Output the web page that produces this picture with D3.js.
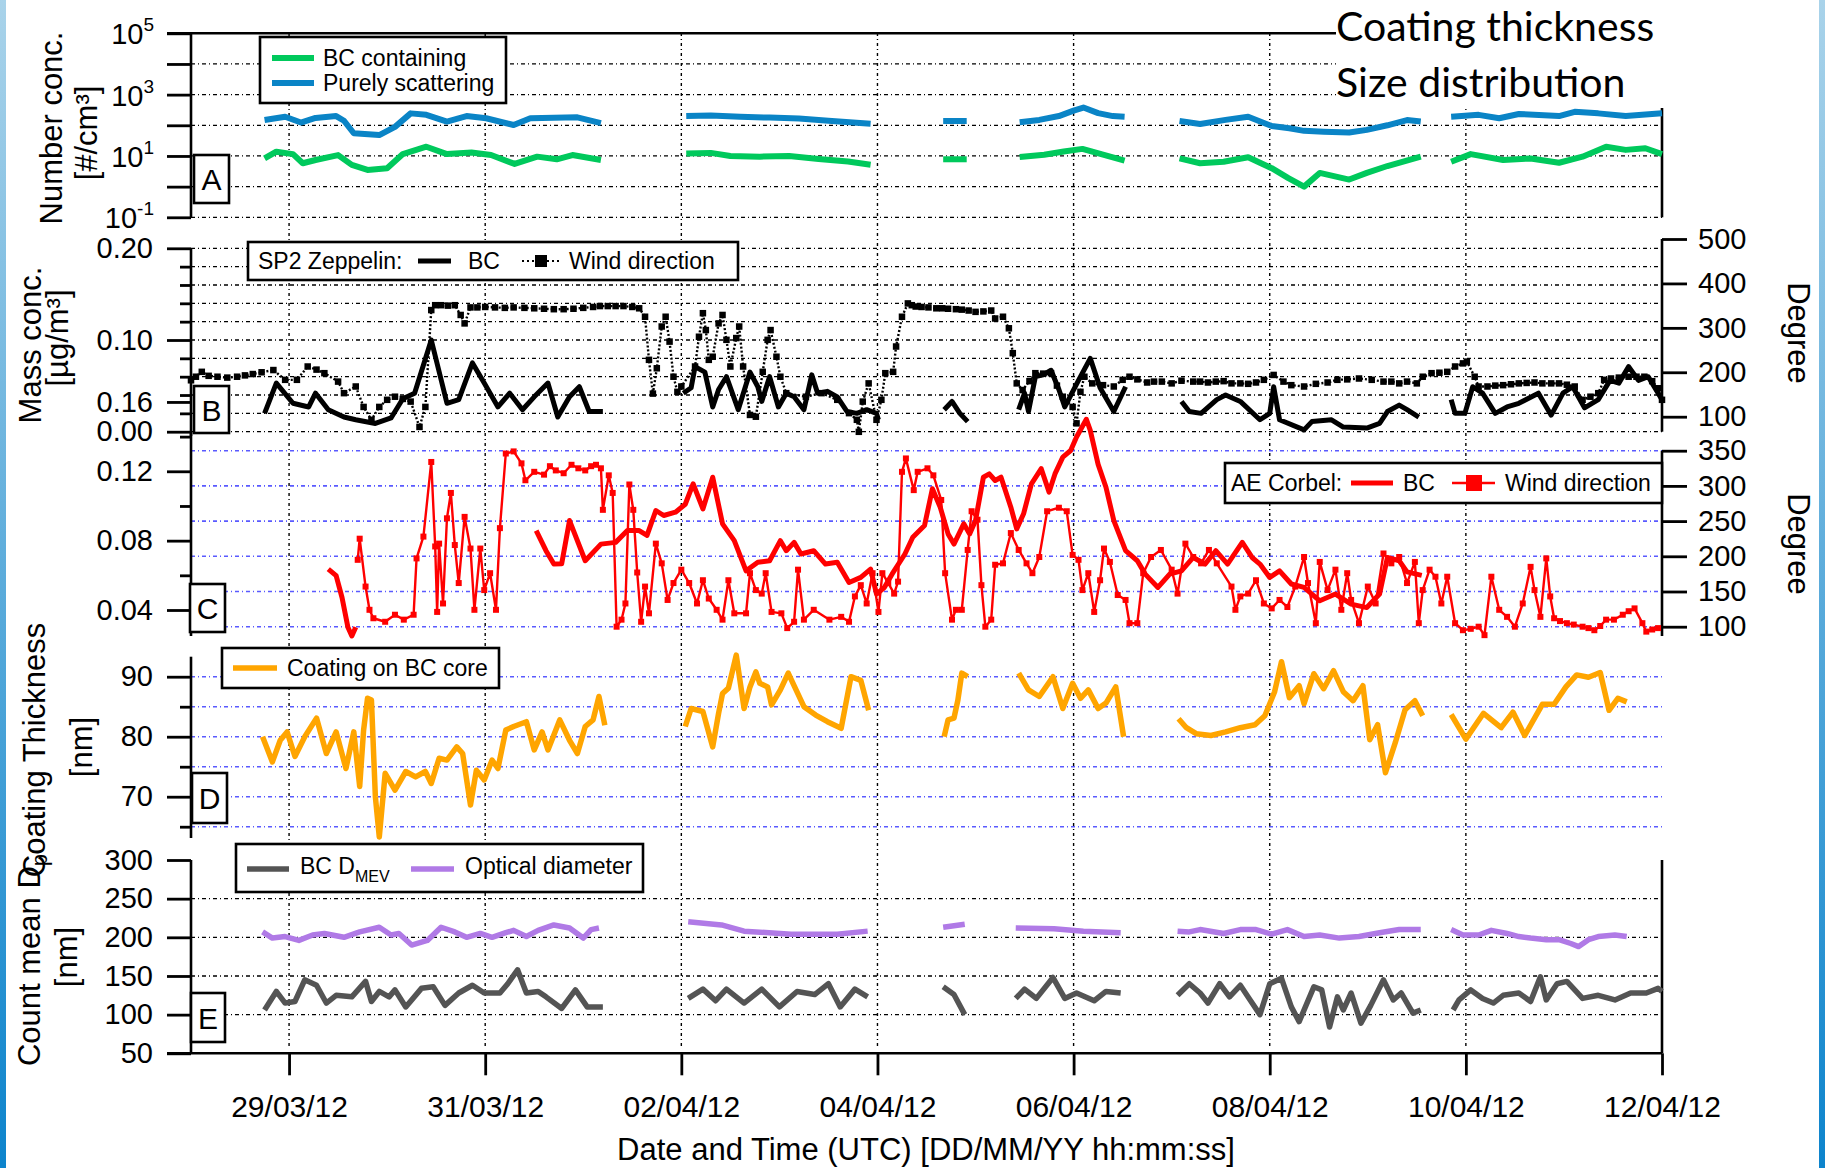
<!DOCTYPE html>
<html>
<head>
<meta charset="utf-8">
<script src="https://cdn.jsdelivr.net/npm/d3@7"></script>
<style>
  body { margin: 0; background: #fff; }
  svg text { font-family: 'Liberation Sans', Arial, sans-serif; fill: #000; }
</style>
</head>
<body>
<svg id="chart" width="1825" height="1168"></svg>
<script>
// ---- data: [day offset from 28/03/12 00:00 UTC, value], one inner array per measured stretch ----
const dateTickDays = [1, 3, 5, 7, 9, 11, 13, 15]

const bcContaining = [
  [[0.75,8.3],[0.87,13.8],[1.04,11.5],[1.14,5.8],[1.27,7.4],[1.5,10.7],[1.64,5.1],[1.8,3.5],[2.0,4.0],[2.16,11.5],[2.4,20],[2.61,11.5],[2.86,12.9],[3.06,10.7],[3.3,5.5],[3.53,9.5],[3.73,7.8],[3.89,10.7],[4.18,7.4]],
  [[5.05,12],[5.3,12.6],[5.5,10],[5.8,9.5],[6.1,10],[6.4,8],[6.7,6.6],[6.93,5.2]],
  [[7.67,7.8],[7.91,7.8]],
  [[8.45,9.3],[8.7,11],[8.9,14],[9.09,17],[9.3,11],[9.52,7]],
  [[10.08,8.3],[10.29,5.8],[10.53,6.5],[10.78,9.1],[11.02,4.0],[11.19,1.9],[11.35,1.0],[11.51,2.8],[11.81,1.7],[11.99,2.8],[12.2,4.7],[12.54,9.5]],
  [[12.85,6.5],[13.05,11.5],[13.38,7.4],[13.66,8.3],[13.95,6.0],[14.19,9.5],[14.43,20],[14.63,15.8],[14.83,17.8],[15.0,11.5]]
]
const purelyScattering = [
  [[0.75,148],[0.96,190],[1.12,123],[1.27,174],[1.48,200],[1.56,141],[1.66,55],[1.92,48],[2.08,89],[2.24,245],[2.4,219],[2.61,132],[2.81,200],[3.01,170],[3.29,102],[3.46,170],[3.94,182],[4.18,117]],
  [[5.05,200],[5.3,209],[5.6,190],[5.9,178],[6.2,166],[6.5,141],[6.93,112]],
  [[7.67,138],[7.91,138]],
  [[8.45,126],[8.65,150],[8.85,200],[9.0,300],[9.1,380],[9.25,250],[9.4,200],[9.52,190]],
  [[10.08,138],[10.29,110],[10.55,150],[10.78,190],[11.02,95],[11.2,80],[11.35,66],[11.55,62],[11.81,58],[11.99,71],[12.2,100],[12.4,148],[12.54,132]],
  [[12.85,190],[13.13,219],[13.34,170],[13.54,234],[13.95,200],[14.11,275],[14.35,245],[14.63,200],[15.0,245]]
]

const sp2BC = [
  [[0.75,0.020],[0.87,0.053],[1.04,0.031],[1.2,0.027],[1.27,0.042],[1.4,0.024],[1.56,0.016],[1.68,0.013],[1.88,0.009],[2.04,0.015],[2.16,0.036],[2.28,0.042],[2.45,0.100],[2.61,0.031],[2.73,0.035],[2.87,0.075],[2.99,0.053],[3.13,0.027],[3.25,0.042],[3.38,0.024],[3.5,0.038],[3.64,0.053],[3.74,0.016],[3.86,0.038],[3.96,0.049],[4.06,0.022],[4.2,0.022]],
  [[5.02,0.042],[5.1,0.048],[5.14,0.071],[5.24,0.065],[5.32,0.027],[5.38,0.046],[5.46,0.060],[5.58,0.024],[5.7,0.065],[5.78,0.049],[5.82,0.033],[5.9,0.060],[5.99,0.027],[6.07,0.042],[6.15,0.038],[6.25,0.024],[6.33,0.062],[6.39,0.042],[6.49,0.044],[6.59,0.038],[6.69,0.022],[6.79,0.020],[6.89,0.024],[6.99,0.020],[7.01,0.013]],
  [[7.68,0.024],[7.76,0.033],[7.84,0.020],[7.92,0.011]],
  [[8.44,0.024],[8.5,0.042],[8.54,0.022],[8.61,0.060],[8.69,0.062],[8.77,0.067],[8.85,0.046],[8.91,0.027],[9.05,0.056],[9.17,0.080],[9.27,0.048],[9.41,0.022],[9.53,0.049]],
  [[10.1,0.033],[10.18,0.022],[10.3,0.020],[10.46,0.035],[10.55,0.040],[10.7,0.033],[10.9,0.013],[11.0,0.020],[11.04,0.049],[11.1,0.013],[11.35,0.002],[11.43,0.011],[11.63,0.013],[11.75,0.005],[11.99,0.004],[12.12,0.009],[12.2,0.022],[12.32,0.029],[12.4,0.024],[12.52,0.016]],
  [[12.85,0.035],[12.89,0.020],[12.99,0.020],[13.07,0.049],[13.17,0.042],[13.3,0.020],[13.42,0.027],[13.54,0.031],[13.74,0.042],[13.87,0.018],[13.99,0.042],[14.09,0.049],[14.21,0.026],[14.35,0.035],[14.47,0.056],[14.56,0.053],[14.66,0.071],[14.76,0.056],[14.86,0.060],[15.0,0.035]]
]
const sp2Wind = [
  [0.0,182],[0.05,190],[0.11,201],[0.18,192],[0.27,190],[0.37,188],[0.47,190],[0.55,193],[0.63,196],[0.72,200],[0.84,205],[0.96,183],[1.08,183],[1.19,213],[1.28,206],[1.36,198],[1.5,179],[1.56,153],[1.68,168],[1.76,122],[1.84,93],[1.92,122],[2.0,138],[2.08,145],[2.16,140],[2.24,134],[2.33,77],[2.39,122],
  [2.45,340],[2.49,351],[2.55,351],[2.62,350],[2.69,351],[2.75,329],[2.79,310],[2.85,346],[2.92,346],[3.0,347],[3.1,346],[3.2,345],[3.29,346],[3.4,345],[3.5,344],[3.6,343],[3.7,342],[3.8,342],[3.9,343],[4.0,345],[4.1,347],[4.17,349],[4.25,349],[4.33,349],[4.41,349],[4.5,347],[4.57,344],[4.63,325],
  [4.67,228],[4.71,152],[4.75,209],[4.8,303],[4.84,325],[4.88,269],[4.92,190],[4.96,156],[5.0,168],[5.14,213],[5.18,280],[5.22,333],[5.25,295],[5.28,228],[5.32,235],[5.38,310],[5.42,329],[5.46,273],[5.5,213],[5.56,277],[5.59,303],[5.63,213],[5.7,104],[5.76,100],[5.83,201],[5.88,273],[5.91,295],[5.97,235],[6.01,190],[6.07,153],[6.27,145],[6.43,153],[6.59,138],[6.71,108],[6.79,93],[6.81,66],[6.85,134],[6.91,175],[6.99,93],[7.04,138],[7.08,198],[7.16,201],[7.19,258],[7.25,325],
  [7.31,355],[7.35,351],[7.39,348],[7.45,347],[7.52,346],[7.6,344],[7.66,344],[7.72,343],[7.8,342],[7.86,341],[7.93,339],[8.0,336],[8.08,337],[8.16,339],[8.2,321],[8.28,325],[8.34,299],[8.38,243],[8.42,175],[8.48,160],[8.55,180],[8.61,198],[8.69,197],[8.77,198],[8.83,170],[8.89,145],[8.99,122],[9.03,85],[9.07,156],[9.11,190],[9.19,175],[9.3,171],[9.41,168],[9.5,183],[9.57,190],[9.65,184],[9.75,177],[9.82,179],[9.9,179],[10.0,175],[10.1,181],[10.22,179],
  [10.29,179],[10.37,177],[10.45,179],[10.53,180],[10.61,175],[10.7,175],[10.78,174],[10.86,177],[10.94,183],[11.04,194],[11.14,179],[11.22,171],[11.35,168],[11.47,174],[11.59,177],[11.69,183],[11.79,184],[11.91,186],[12.04,183],[12.16,179],[12.24,179],[12.32,175],[12.4,179],[12.5,175],[12.56,190],[12.65,198],[12.73,199],[12.81,201],[12.89,213],[12.97,220],[13.01,224],[13.09,190],[13.13,168],[13.22,168],[13.3,170],[13.38,171],[13.46,173],[13.54,175],[13.62,176],[13.7,177],[13.78,175],[13.87,175],[13.95,175],[14.03,172],[14.11,168],[14.19,138],[14.27,145],[14.35,153],[14.41,183],[14.48,186],[14.56,188],[14.66,190],[14.74,190],[14.82,190],[14.9,180],[14.96,164],[15.0,138]
]

const aeBC = [
  [[1.4,0.0636],[1.48,0.0598],[1.54,0.0472],[1.6,0.030],[1.64,0.025],[1.68,0.030]],
  [[3.52,0.0858],[3.62,0.0742],[3.7,0.0665],[3.78,0.0667],[3.86,0.0916],[4.02,0.0684],[4.18,0.078],[4.33,0.079],[4.45,0.0858],[4.57,0.0858],[4.65,0.083],[4.74,0.0974],[4.82,0.0945],[4.94,0.0964],[5.04,0.101],[5.12,0.1128],[5.22,0.0983],[5.32,0.1166],[5.42,0.0897],[5.54,0.080],[5.66,0.0626],[5.78,0.0675],[5.9,0.0684],[6.01,0.080],[6.07,0.0742],[6.15,0.079],[6.22,0.0723],[6.35,0.0742],[6.47,0.0665],[6.59,0.0675],[6.71,0.0559],[6.83,0.0588],[6.93,0.0636],[6.99,0.0492],[7.07,0.053],[7.15,0.0608],[7.28,0.0723],[7.36,0.082],[7.48,0.0887],[7.56,0.1099],[7.64,0.0993],[7.72,0.0839],[7.78,0.078],[7.88,0.0897],[7.94,0.0839],[8.0,0.0916],[8.08,0.1166],[8.14,0.1185],[8.2,0.1147],[8.26,0.1166],[8.36,0.0993],[8.42,0.0868],[8.49,0.0955],[8.57,0.1128],[8.67,0.1215],[8.75,0.108],[8.81,0.1185],[8.89,0.1282],[8.97,0.132],[9.03,0.1398],[9.13,0.150],[9.17,0.1436],[9.25,0.124],[9.33,0.1108],[9.41,0.0916],[9.53,0.0742],[9.65,0.0684],[9.73,0.0607],[9.86,0.053],[9.98,0.0607],[10.1,0.0626],[10.22,0.0703],[10.34,0.0665],[10.45,0.0742],[10.57,0.0665],[10.72,0.079],[10.82,0.0703],[10.9,0.0665],[11.0,0.0588],[11.1,0.0626],[11.22,0.055],[11.35,0.053],[11.51,0.0453],[11.67,0.0492],[11.83,0.0434],[11.99,0.0414],[12.12,0.0492],[12.2,0.0703],[12.32,0.0684],[12.4,0.062],[12.55,0.060]]
]
const aeWind = [
  [1.7,195],[1.72,225],[1.78,157],[1.82,124],[1.86,112],[1.98,107],[2.08,117],[2.17,110],[2.27,117],[2.3,197],[2.37,228],[2.45,334],[2.49,214],[2.51,121],[2.53,218],[2.57,133],[2.61,254],[2.65,290],[2.69,216],[2.73,162],[2.79,256],[2.85,211],[2.89,124],[2.95,211],[2.99,152],[3.05,176],[3.11,124],[3.15,240],[3.21,346],[3.29,349],[3.37,332],[3.41,308],[3.5,320],[3.6,316],[3.66,328],[3.72,322],[3.8,318],[3.88,330],[3.95,325],[4.02,322],[4.08,328],[4.13,330],[4.18,325],[4.2,266],[4.26,315],[4.3,290],[4.34,100],
  [4.39,110],[4.43,133],[4.47,302],[4.51,266],[4.55,177],[4.59,107],[4.63,157],[4.67,119],[4.74,218],[4.8,190],[4.86,138],[4.92,162],[5.0,181],[5.08,162],[5.16,133],[5.22,166],[5.28,140],[5.36,124],[5.42,110],[5.48,166],[5.54,119],[5.66,119],[5.7,176],[5.76,152],[5.82,147],[5.86,176],[5.92,121],[6.02,119],[6.08,98],[6.15,107],[6.19,181],[6.25,110],[6.35,124],[6.51,110],[6.63,114],[6.71,107],[6.77,143],[6.83,159],[6.89,133],[6.95,176],[7.01,121],[7.05,176],[7.11,162],[7.17,147],[7.21,164],[7.25,320],[7.29,339],[7.37,294],[7.41,320],[7.51,325],[7.57,315],[7.65,280],[7.69,176],[7.76,110],[7.8,124],[7.86,124],[7.92,209],[7.96,264],[8.02,252],[8.06,159],[8.1,100],[8.16,110],[8.2,188],[8.28,190],[8.36,233],[8.44,209],[8.52,190],[8.58,176],[8.65,199],[8.73,264],[8.85,269],[8.93,264],[8.99,202],[9.05,195],[9.09,152],[9.15,176],[9.21,121],[9.27,166],[9.31,211],[9.37,192],[9.45,145],[9.53,138],[9.57,105],[9.65,105],[9.71,176],[9.79,199],[9.89,209],[10.0,181],[10.06,147],[10.14,218],[10.22,199],[10.3,190],[10.38,209],[10.46,190],
  [10.61,157],[10.65,124],[10.7,143],[10.78,147],[10.86,166],[10.94,133],[11.02,126],[11.1,138],[11.18,128],[11.26,157],[11.35,199],[11.39,162],[11.47,105],[11.51,192],[11.59,152],[11.67,181],[11.73,124],[11.79,176],[11.83,138],[11.91,105],[12.0,157],[12.08,133],[12.16,204],[12.24,190],[12.32,199],[12.4,162],[12.48,192],[12.52,105],[12.56,152],[12.63,181],[12.69,171],[12.75,133],[12.81,171],[12.89,105],[12.97,95],[13.05,97],[13.13,100],[13.19,88],[13.26,171],[13.34,124],[13.42,114],[13.5,100],[13.58,133],[13.66,185],[13.7,152],[13.76,114],[13.82,197],[13.86,143],[13.9,112],[13.96,108],[14.03,105],[14.1,103],[14.19,100],[14.25,98],[14.31,95],[14.37,101],[14.43,110],[14.51,110],[14.6,117],[14.66,122],[14.72,126],[14.8,105],[14.84,93],[14.9,96],[14.96,98]
]

const coatingBC = [
  [[0.73,80.0],[0.83,75.8],[0.91,79.4],[0.98,80.8],[1.06,76.7],[1.16,80.0],[1.28,83.1],[1.38,77.2],[1.48,80.8],[1.58,74.7],[1.66,80.8],[1.72,71.7],[1.76,81.1],[1.8,86.4],[1.84,86.1],[1.88,70.0],[1.92,63.3],[1.98,73.9],[2.08,71.1],[2.19,74.2],[2.29,73.3],[2.39,74.2],[2.45,72.2],[2.53,76.4],[2.61,76.1],[2.71,78.3],[2.77,77.2],[2.85,68.6],[2.91,74.4],[2.99,72.8],[3.07,76.1],[3.13,74.7],[3.21,81.1],[3.29,81.7],[3.42,82.5],[3.5,77.8],[3.58,80.8],[3.64,77.8],[3.76,82.8],[3.86,79.4],[3.94,77.2],[4.02,81.7],[4.1,82.8],[4.16,86.7],[4.22,81.9]],
  [[5.04,81.7],[5.1,84.7],[5.22,84.2],[5.32,78.3],[5.38,83.9],[5.42,87.2],[5.48,88.1],[5.56,93.6],[5.64,84.7],[5.7,88.3],[5.76,90.8],[5.8,88.9],[5.88,88.3],[5.92,85.3],[6.01,87.8],[6.09,90.6],[6.17,87.8],[6.25,85.0],[6.37,83.6],[6.49,82.5],[6.63,81.4],[6.73,90.0],[6.83,89.4],[6.91,84.4]],
  [[7.68,80.0],[7.72,82.8],[7.78,83.1],[7.82,86.1],[7.86,90.6],[7.92,90.0]],
  [[8.44,90.6],[8.54,87.8],[8.65,86.7],[8.79,90.0],[8.89,84.7],[8.99,88.9],[9.07,86.4],[9.15,87.8],[9.25,84.7],[9.33,85.6],[9.43,88.3],[9.51,80.0]],
  [[10.07,83.0],[10.15,81.5],[10.25,80.5],[10.4,80.2],[10.55,80.8],[10.7,81.5],[10.85,82.0],[10.95,83.5],[11.05,87.5],[11.12,92.5],[11.2,86.5],[11.3,88.5],[11.35,85.5],[11.45,90.5],[11.55,88.0],[11.65,91.0],[11.75,87.5],[11.85,86.0],[11.95,88.5],[12.02,79.5],[12.1,82.0],[12.18,74.0],[12.28,79.0],[12.38,84.5],[12.48,86.0],[12.56,83.5]],
  [[12.85,83.7],[13.0,79.6],[13.18,83.9],[13.36,81.5],[13.48,84.1],[13.6,80.2],[13.78,85.4],[13.9,85.4],[14.02,88.3],[14.13,90.3],[14.25,89.9],[14.37,90.7],[14.46,84.4],[14.55,86.4],[14.64,85.8]]
]

const bcDmev = [
  [[0.75,106],[0.87,130],[0.96,115],[1.06,117],[1.16,145],[1.28,138],[1.38,115],[1.48,125],[1.64,123],[1.78,143],[1.84,117],[1.92,130],[2.02,123],[2.08,132],[2.19,110],[2.35,134],[2.47,136],[2.59,112],[2.73,128],[2.87,138],[2.99,128],[3.15,128],[3.23,140],[3.33,158],[3.42,128],[3.54,130],[3.62,123],[3.78,108],[3.92,132],[4.04,110],[4.2,110]],
  [[5.07,121],[5.22,133],[5.35,118],[5.46,133],[5.64,115],[5.82,133],[6.0,110],[6.18,130],[6.36,126],[6.5,140],[6.62,110],[6.77,133],[6.9,123]],
  [[7.67,136],[7.78,126],[7.89,100]],
  [[8.41,121],[8.5,133],[8.62,121],[8.79,148],[8.91,121],[9.03,128],[9.21,118],[9.33,130],[9.48,128]],
  [[10.06,125],[10.18,140],[10.29,128],[10.37,115],[10.49,140],[10.59,123],[10.7,138],[10.8,119],[10.9,100],[11.0,140],[11.12,147],[11.22,110],[11.3,91],[11.45,136],[11.53,132],[11.61,84],[11.69,123],[11.75,106],[11.83,128],[11.93,89],[12.03,112],[12.16,145],[12.26,119],[12.34,128],[12.46,102],[12.54,106]],
  [[12.87,106],[12.93,119],[13.05,132],[13.17,121],[13.28,115],[13.38,125],[13.54,128],[13.66,117],[13.76,149],[13.82,119],[13.93,140],[14.03,143],[14.19,121],[14.35,125],[14.52,119],[14.68,128],[14.84,128],[14.96,134],[15.0,130]]
]
const opticalDiameter = [
  [[0.73,207],[0.83,199],[0.96,201],[1.1,196],[1.24,203],[1.36,205],[1.56,200],[1.72,207],[1.92,213],[2.04,203],[2.12,205],[2.25,190],[2.41,196],[2.55,213],[2.69,207],[2.81,200],[2.95,205],[3.07,200],[3.21,206],[3.29,209],[3.42,201],[3.54,209],[3.7,216],[3.86,212],[4.0,199],[4.08,210],[4.16,212]],
  [[5.07,220],[5.41,216],[5.64,208],[6.12,204],[6.59,204],[6.9,208]],
  [[7.67,213],[7.89,217]],
  [[8.41,212],[8.8,211],[9.1,208],[9.48,206]],
  [[10.06,208],[10.18,207],[10.29,210],[10.53,205],[10.7,210],[10.86,210],[11.02,204],[11.18,210],[11.35,201],[11.51,203],[11.71,199],[11.91,201],[12.12,206],[12.32,210],[12.54,210]],
  [[12.85,210],[12.97,203],[13.13,203],[13.26,209],[13.42,205],[13.54,201],[13.66,199],[13.82,197],[13.95,197],[14.07,192],[14.15,188],[14.25,197],[14.35,201],[14.52,203],[14.64,201]]
]

// ---- layout ----
const X0 = 191
const X1 = 1662
const t0 = Date.UTC(2012, 2, 28)
const toDate = d => new Date(t0 + d * 864e5)

const svg = d3.select('#chart')
const x = d3.scaleUtc().domain([toDate(0), toDate(15)]).range([X0, X1])

const yA = d3.scaleLog().domain([0.1, 1e5]).range([217.3, 33.3])
const yB = d3.scaleLinear().domain([0, 0.2]).range([431.7, 248.3])
const yBr = d3.scaleLinear().domain([100, 500]).range([416.7, 239])
const yC = d3.scaleLinear().domain([0.04, 0.12]).range([610, 471.3])
const yCr = d3.scaleLinear().domain([100, 350]).range([626.7, 450.7])
const yD = d3.scaleLinear().domain([65, 90]).range([826.7, 676.7])
const yE = d3.scaleLinear().domain([50, 300]).range([1053.3, 860])

const FONT = 29

// ---- gridlines ----
const grid = svg.append('g')
function hGrid(scale, values, color) {
  grid
    .append('g')
    .selectAll('line')
    .data(values)
    .join('line')
    .attr('x1', X0)
    .attr('x2', X1)
    .attr('y1', d => scale(d))
    .attr('y2', d => scale(d))
    .attr('stroke', color)
    .attr('stroke-width', color === '#000' ? 1.3 : 1.6)
    .attr('stroke-dasharray', '4,3,1,3')
}
hGrid(yA, [1e4, 1e3, 1e2, 1e1, 1, 0.1], '#000')
hGrid(yB, d3.range(0, 11).map(i => i * 0.02), '#000')
hGrid(yCr, [100, 150, 200, 250, 300, 350], '#5a5aff')
hGrid(yD, [65, 70, 75, 80, 85, 90], '#5a5aff')
hGrid(yE, [100, 150, 200, 250], '#000')

grid
  .append('g')
  .selectAll('line')
  .data(dateTickDays.slice(0, -1))
  .join('line')
  .attr('x1', d => x(toDate(d)))
  .attr('x2', d => x(toDate(d)))
  .attr('y1', 33)
  .attr('y2', 1048)
  .attr('stroke', '#000')
  .attr('stroke-width', 1.4)
  .attr('stroke-dasharray', '3,3,1,3')

// ---- axis lines and ticks ----
const axes = svg.append('g')
function vLine(xp, y1, y2) {
  axes.append('line').attr('x1', xp).attr('x2', xp).attr('y1', y1).attr('y2', y2)
    .attr('stroke', '#000').attr('stroke-width', 2.6)
}
vLine(X0, 33.3, 217.3)
vLine(X0, 248.3, 436)
vLine(X0, 431.7, 636)
vLine(X0, 656.7, 838)
vLine(X0, 860, 1053.3)
vLine(X1, 33.3, 217.3)
vLine(X1, 239, 431.7)
vLine(X1, 450.7, 636)
vLine(X1, 860, 1053.3)
axes.append('line').attr('x1', 167).attr('x2', X1).attr('y1', 33.3).attr('y2', 33.3)
  .attr('stroke', '#000').attr('stroke-width', 2.6)

function styleAxis(g) {
  g.select('.domain').remove()
  g.attr('font-size', FONT).attr('font-family', null)
  g.selectAll('.tick line').attr('stroke-width', 2.8)
}
function leftAxis(scale, majors, minors, fmt) {
  axes.append('g').attr('transform', `translate(${X0},0)`)
    .call(d3.axisLeft(scale).tickValues(majors).tickSize(24).tickPadding(14).tickFormat(fmt))
    .call(styleAxis)
  if (minors.length) {
    axes.append('g').attr('transform', `translate(${X0},0)`)
      .call(d3.axisLeft(scale).tickValues(minors).tickSize(11).tickFormat(''))
      .call(styleAxis)
  }
}
function rightAxis(scale, majors) {
  axes.append('g').attr('transform', `translate(${X1},0)`)
    .call(d3.axisRight(scale).tickValues(majors).tickSize(25).tickPadding(11).tickFormat(d3.format('d')))
    .call(styleAxis)
}

// panel A: log axis, labels every second decade as 10^n
leftAxis(yA, [1e5, 1e4, 1e3, 1e2, 1e1, 1, 0.1], [], () => '')
const aLabelExps = [5, 3, 1, -1]
axes.append('g')
  .selectAll('text')
  .data(aLabelExps)
  .join('text')
  .attr('x', 154)
  .attr('y', d => yA(Math.pow(10, d)) + 11)
  .attr('text-anchor', 'end')
  .attr('font-size', FONT)
  .each(function (d) {
    const t = d3.select(this)
    t.append('tspan').text('10')
    t.append('tspan').attr('dy', -13).attr('font-size', 19).text(d)
  })

leftAxis(yB, [0.2, 0.1, 0], [0.18, 0.16, 0.14, 0.12, 0.08, 0.06, 0.04, 0.02], d3.format('.2f'))
rightAxis(yBr, [100, 200, 300, 400, 500])
leftAxis(yC, [0.16, 0.12, 0.08, 0.04], [0.14, 0.1, 0.06], d3.format('.2f'))
rightAxis(yCr, [100, 150, 200, 250, 300, 350])
leftAxis(yD, [90, 80, 70], [85, 75, 65], d3.format('d'))
leftAxis(yE, [300, 250, 200, 150, 100, 50], [], d3.format('d'))

// bottom time axis
axes.append('g').attr('transform', 'translate(0,1053.3)')
  .call(d3.axisBottom(x).tickValues(dateTickDays.map(toDate)).tickSize(22).tickPadding(20)
    .tickFormat(d3.utcFormat('%d/%m/%y')))
  .call(styleAxis)
  .attr('font-size', 30)
axes.append('line').attr('x1', 167).attr('x2', X1).attr('y1', 1053.3).attr('y2', 1053.3)
  .attr('stroke', '#000').attr('stroke-width', 2.6)

// ---- data lines ----
const plot = svg.append('g').attr('fill', 'none').attr('stroke-linejoin', 'round')
function drawSegments(segments, y, color, width, dash) {
  const line = d3.line().x(p => x(toDate(p[0]))).y(p => y(p[1]))
  plot.append('g')
    .selectAll('path')
    .data(segments)
    .join('path')
    .attr('d', line)
    .attr('stroke', color)
    .attr('stroke-width', width)
    .attr('stroke-dasharray', dash || null)
}
function drawMarkers(points, y, color, size) {
  plot.append('g')
    .selectAll('rect')
    .data(points)
    .join('rect')
    .attr('x', p => x(toDate(p[0])) - size / 2)
    .attr('y', p => y(p[1]) - size / 2)
    .attr('width', size)
    .attr('height', size)
    .attr('fill', color)
}

drawSegments(purelyScattering, yA, '#0a84c6', 6)
drawSegments(bcContaining, yA, '#00c95c', 6)

drawSegments([sp2Wind], yBr, '#000', 2.4, '2,2')
drawMarkers(sp2Wind, yBr, '#000', 6.5)
drawSegments(sp2BC, yB, '#000', 5)

drawSegments([aeWind], yCr, '#ff0000', 2.4)
drawMarkers(aeWind, yCr, '#ff0000', 6)
drawSegments(aeBC, yC, '#ff0000', 5)

drawSegments(coatingBC, yD, '#ffa500', 5.5)

drawSegments(opticalDiameter, yE, '#b07ae6', 5.5)
drawSegments(bcDmev, yE, '#545454', 5.5)

// ---- legends ----
const leg = svg.append('g').attr('font-size', 23)
function box(g, x0, y0, w, h) {
  g.append('rect').attr('x', x0).attr('y', y0).attr('width', w).attr('height', h)
    .attr('fill', '#fff').attr('stroke', '#000').attr('stroke-width', 2.6)
}
function sample(g, x0, x1, y, color, width, dash) {
  g.append('line').attr('x1', x0).attr('x2', x1).attr('y1', y).attr('y2', y)
    .attr('stroke', color).attr('stroke-width', width).attr('stroke-dasharray', dash || null)
}
function label(g, xp, y, txt) {
  return g.append('text').attr('x', xp).attr('y', y + 8).text(txt)
}

box(leg, 260, 37, 246, 66)
sample(leg, 272, 314, 58, '#00c95c', 6)
label(leg, 323, 58, 'BC containing')
sample(leg, 272, 314, 83, '#0a84c6', 6)
label(leg, 323, 83, 'Purely scattering')

box(leg, 248, 242, 490, 38)
label(leg, 258, 261, 'SP2 Zeppelin:')
sample(leg, 418, 451, 261, '#000', 5)
label(leg, 468, 261, 'BC')
sample(leg, 522, 560, 261, '#000', 2.2, '2,3')
leg.append('rect').attr('x', 535).attr('y', 255).attr('width', 12).attr('height', 12)
label(leg, 569, 261, 'Wind direction')

box(leg, 1225, 463, 437, 40)
label(leg, 1231, 483, 'AE Corbel:')
sample(leg, 1351, 1393, 483, '#ff0000', 5)
label(leg, 1403, 483, 'BC')
sample(leg, 1452, 1495, 483, '#ff0000', 2.5)
leg.append('rect').attr('x', 1466).attr('y', 475).attr('width', 16).attr('height', 16).attr('fill', '#ff0000')
label(leg, 1505, 483, 'Wind direction')

box(leg, 222, 648, 277, 40)
sample(leg, 233, 277, 668, '#ffa500', 5.5)
label(leg, 287, 668, 'Coating on BC core')

box(leg, 236, 844, 407, 48)
sample(leg, 247, 289, 869, '#545454', 5.5)
const dm = label(leg, 300, 866, 'BC D')
dm.append('tspan').attr('font-size', 16).attr('dy', 8).text('MEV')
sample(leg, 411, 454, 869, '#b07ae6', 5.5)
label(leg, 465, 866, 'Optical diameter')

// panel letters
const panelLetters = ['A', 'B', 'C', 'D', 'E']
const letterBoxes = [[194, 155, 35, 48], [194, 386, 35, 47], [190, 584, 35, 48], [192, 773, 35, 50], [191, 993, 34, 49]]
panelLetters.forEach((l, i) => {
  const [bx, by, bw, bh] = letterBoxes[i]
  box(leg, bx, by, bw, bh)
  leg.append('text').attr('x', bx + bw / 2).attr('y', by + bh / 2 + 11)
    .attr('text-anchor', 'middle').attr('font-size', 30).text(l)
})

// ---- axis titles ----
const titles = svg.append('g').attr('font-size', 31).attr('text-anchor', 'middle')
function vTitle(xp, yp, angle) {
  return titles.append('text').attr('transform', `translate(${xp},${yp}) rotate(${angle})`)
}
vTitle(62, 128, -90).text('Number conc.')
vTitle(97, 133, -90).text('[#/cm³]')
vTitle(41, 345, -90).text('Mass conc.')
vTitle(68, 338, -90).text('[µg/m³]')
vTitle(45, 750, -90).text('Coating Thickness')
vTitle(92, 747, -90).text('[nm]')
const cm = vTitle(40, 960, -90).text('Count mean D')
cm.append('tspan').attr('font-size', 22).attr('dy', 7).text('p')
vTitle(77, 957, -90).text('[nm]')
vTitle(1788, 333, 90).text('Degree')
vTitle(1788, 544, 90).text('Degree')
titles.append('text').attr('x', 926).attr('y', 1160).text('Date and Time (UTC) [DD/MM/YY hh:mm:ss]')

// ---- slide overlay ----
svg.append('rect').attr('x', 1336).attr('y', 0).attr('width', 482).attr('height', 108).attr('fill', '#fff')
svg.append('g').attr('font-size', 41)
  .selectAll('text')
  .data(['Coating thickness', 'Size distribution'])
  .join('text')
  .attr('x', 1336)
  .attr('y', (d, i) => 41 + i * 56)
  .style('font-family', 'Lato, "Open Sans", sans-serif')
  .text(d => d)

const defs = svg.append('defs')
const grad = defs.append('linearGradient').attr('id', 'edge').attr('x1', 0).attr('x2', 0).attr('y1', 0).attr('y2', 1)
grad.append('stop').attr('offset', 0).attr('stop-color', '#a9d3ea')
grad.append('stop').attr('offset', 1).attr('stop-color', '#0d84cc')
svg.append('rect').attr('x', 0).attr('y', 0).attr('width', 6).attr('height', 1168).attr('fill', 'url(#edge)')
svg.append('rect').attr('x', 1819).attr('y', 0).attr('width', 6).attr('height', 1168).attr('fill', 'url(#edge)')
</script>
</body>
</html>
